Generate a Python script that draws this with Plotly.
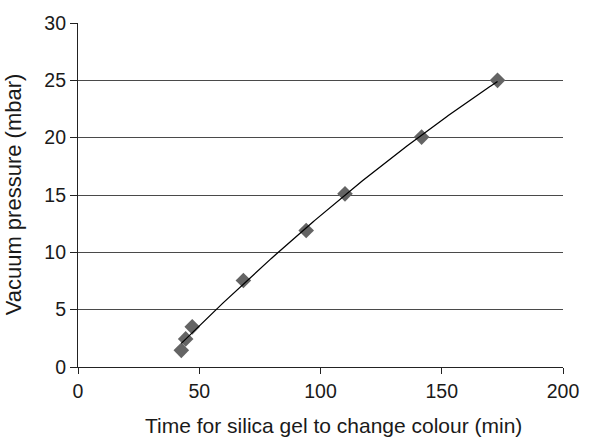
import numpy as np
import plotly.graph_objects as go

# Measured drying times and the vacuum pressures they were taken at
time_min = [42.6, 44.4, 47.1, 68.2, 94.1, 110.1, 141.7, 173.0]
pressure_mbar = [1.45, 2.45, 3.5, 7.55, 11.9, 15.1, 20.05, 25.0]

x_ticks = [0, 50, 100, 150, 200]
y_ticks = [0, 5, 10, 15, 20, 25, 30]

x_title = "Time for silica gel to change colour (min)"
y_title = "Vacuum pressure (mbar)"

# Second-order polynomial trendline across the measured range
coef = np.polyfit(time_min, pressure_mbar, 2)
xs = np.linspace(min(time_min), max(time_min), 200)
ys = np.polyval(coef, xs)

fig = go.Figure()
fig.add_trace(go.Scatter(
    x=time_min, y=pressure_mbar, mode="markers",
    marker=dict(symbol="diamond", size=12, color="#646464", line=dict(width=0)),
    showlegend=False, hoverinfo="x+y",
))
fig.add_trace(go.Scatter(
    x=xs, y=ys, mode="lines",
    line=dict(color="black", width=1.3),
    showlegend=False, hoverinfo="skip",
))

font = "Liberation Sans, Arial, sans-serif"
fig.update_layout(
    width=609, height=441,
    margin=dict(l=78, r=46, t=14, b=74),
    paper_bgcolor="white", plot_bgcolor="white",
    font=dict(family=font, size=19.5, color="#1a1a1a"),
    xaxis=dict(
        range=[0, 200], tickvals=x_ticks, showgrid=False, zeroline=False,
        showline=True, linecolor="#222", linewidth=1.2,
        ticks="outside", ticklen=6, tickcolor="#222",
    ),
    yaxis=dict(
        range=[0, 30], tickvals=y_ticks, showgrid=True,
        gridcolor="#4a4a4a", gridwidth=1, zeroline=False,
        showline=True, linecolor="#222", linewidth=1.2,
        ticks="outside", ticklen=7, tickcolor="#222",
    ),
    annotations=[
        dict(text=x_title, xref="paper", yref="paper", x=0.526, y=-0.17,
             xanchor="center", yanchor="middle", showarrow=False,
             font=dict(size=21)),
        dict(text=y_title, xref="paper", yref="paper", x=-0.134, y=0.502,
             xanchor="center", yanchor="middle", showarrow=False,
             textangle=-90, font=dict(size=22)),
    ],
)

fig.write_html("out.html")
